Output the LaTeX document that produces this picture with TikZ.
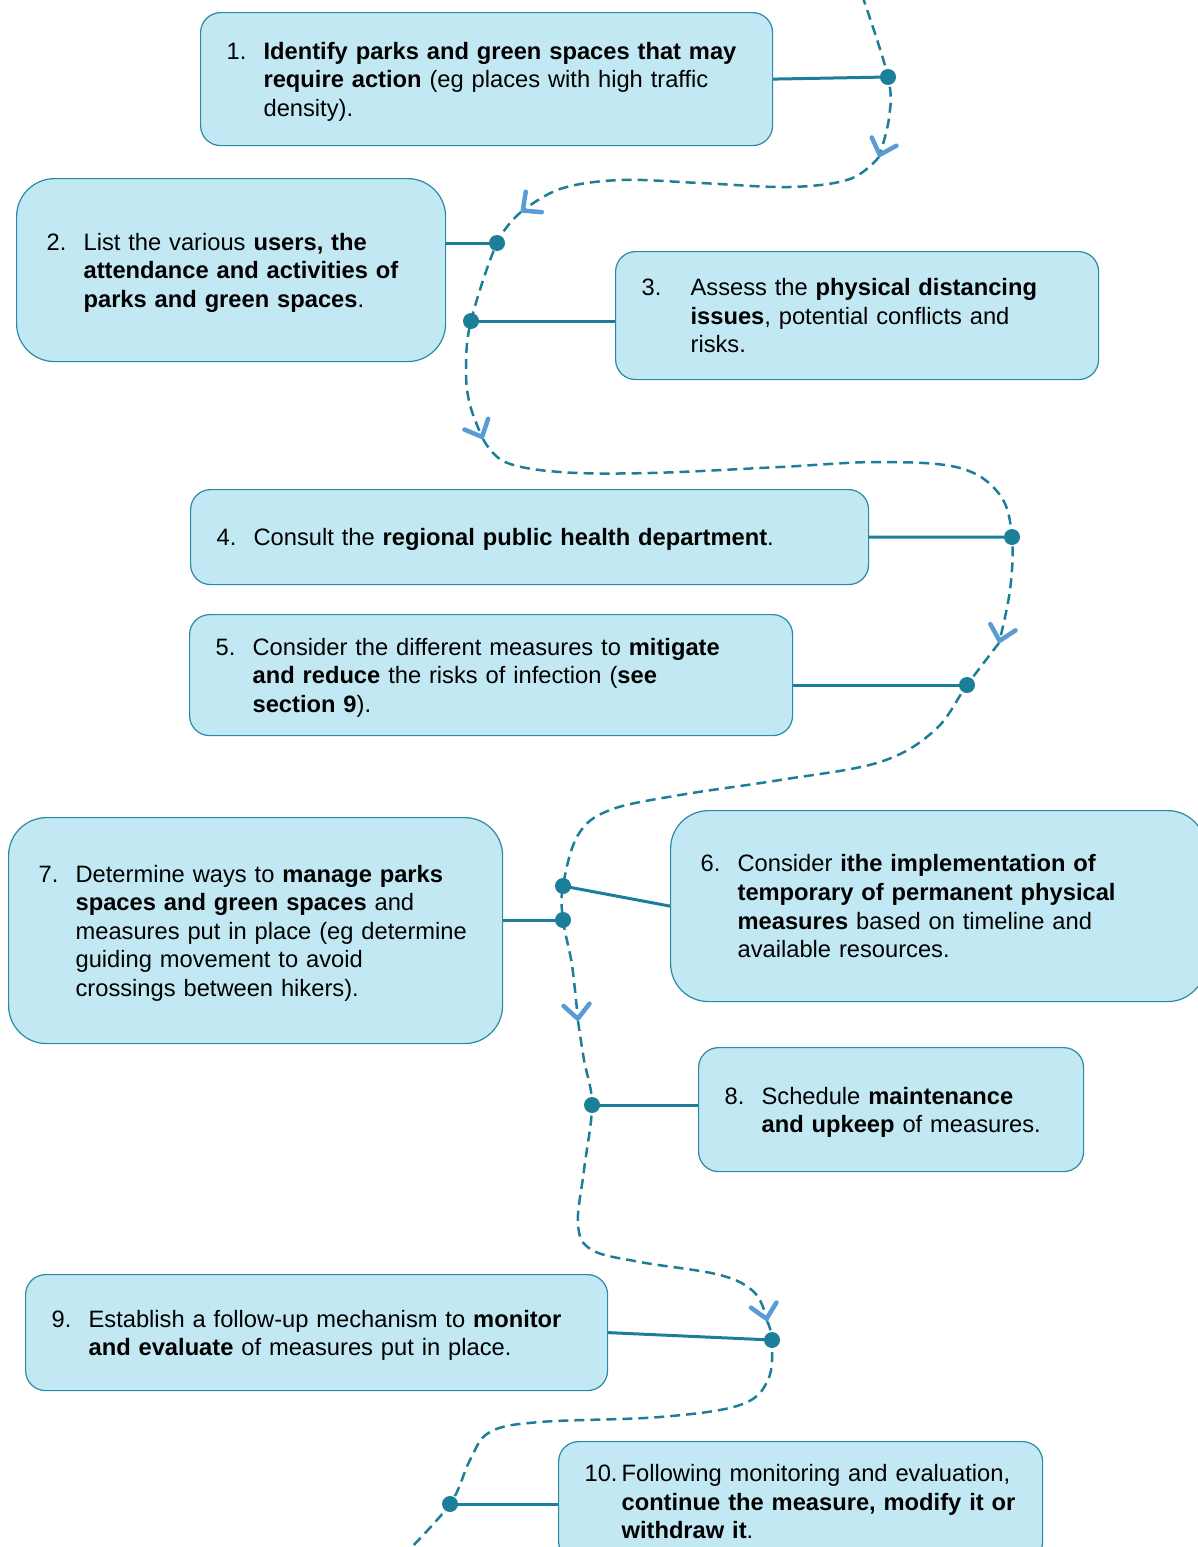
\documentclass[tikz,border=0pt]{standalone}
\usepackage{fontspec}
\setmainfont{Liberation Sans}
\usetikzlibrary{arrows.meta}

\definecolor{boxfill}{HTML}{C2E9F3}
\definecolor{boxline}{HTML}{2A8BA6}
\definecolor{pathteal}{HTML}{1B7F99}
\definecolor{tipblue}{HTML}{5B9BD5}

% number column + lines of one step
\newcommand{\stepitem}[3][37pt]{%
  \raisebox{-3pt}[\height][\depth]{%
  \begin{tabular}{@{}p{#1}@{}l@{}}#2 & \begin{tabular}[t]{@{}l@{}}#3\end{tabular}\end{tabular}}}

\tikzset{
  stepbox/.style={draw=boxline, line width=1.2pt, fill=boxfill, rounded corners=20pt,
    anchor=north west, inner xsep=26pt, inner ysep=4pt, align=left,
    font=\fontsize{23.7}{28.6}\selectfont},
  bigbox/.style={stepbox, rounded corners=38pt, inner xsep=30pt},
  pathdot/.style={circle, fill=pathteal, inner sep=0pt, minimum size=16pt},
  link/.style={draw=pathteal, line width=3pt},
  flowpath/.style={draw=pathteal, line width=2.5pt, dash pattern=on 10pt off 6pt},
  flowtip/.style={-{Straight Barb[length=14pt, width=26pt, line width=4.5pt, round, color=tipblue]}},
}

\begin{document}
\begin{tikzpicture}[x=1pt, y=-1pt]
  \useasboundingbox (0,0) rectangle (1198,1547);
  \clip (0,0) rectangle (1198,1547);

  % steps
  \node[stepbox, text width=520pt, minimum height=133pt] (b1) at (200,12)
    {\stepitem{1.}{\textbf{Identify parks and green spaces that may}\\
      \textbf{require action} (eg places with high traffic\\ density).}};
  \node[bigbox, text width=369pt, minimum height=183pt] (b2) at (16,178)
    {\stepitem{2.}{List the various \textbf{users, the}\\
      \textbf{attendance and activities of}\\ \textbf{parks and green spaces}.}};
  \node[stepbox, text width=431pt, minimum height=128pt] (b3) at (615,251)
    {\stepitem[49pt]{3.}{Assess the \textbf{physical distancing}\\
      \textbf{issues}, potential conflicts and\\ risks.}};
  \node[stepbox, text width=626pt, minimum height=95pt] (b4) at (190,489)
    {\stepitem{4.}{Consult the \textbf{regional public health department}.}};
  \node[stepbox, text width=551pt, minimum height=121pt] (b5) at (189,614)
    {\stepitem{5.}{Consider the different measures to \textbf{mitigate}\\
      \textbf{and reduce} the risks of infection (\textbf{see}\\ \textbf{section 9}).}};
  \node[bigbox, text width=475pt, minimum height=191pt] (b6) at (670,810)
    {\stepitem{6.}{Consider \textbf{ithe implementation of}\\
      \textbf{temporary of permanent physical}\\
      \textbf{measures} based on timeline and\\ available resources.}};
  \node[bigbox, text width=434pt, minimum height=226pt] (b7) at (8,817)
    {\stepitem{7.}{Determine ways to \textbf{manage parks}\\
      \textbf{spaces and green spaces} and\\
      measures put in place (eg determine\\
      guiding movement to avoid\\ crossings between hikers).}};
  \node[stepbox, text width=333pt, minimum height=124pt] (b8) at (698,1047)
    {\stepitem{8.}{Schedule \textbf{maintenance}\\ \textbf{and upkeep} of measures.}};
  \node[stepbox, text width=530pt, minimum height=116pt] (b9) at (25,1274)
    {\stepitem{9.}{Establish a follow-up mechanism to \textbf{monitor}\\
      \textbf{and evaluate} of measures put in place.}};
  \node[stepbox, text width=432pt, minimum height=120pt] (b10) at (558,1441)
    {\stepitem{10.}{Following monitoring and evaluation,\\
      \textbf{continue the measure, modify it or}\\ \textbf{withdraw it}.}};

  % dots on the path
  \node[pathdot] (d1) at (888,77) {};
  \node[pathdot] (d2) at (497,243) {};
  \node[pathdot] (d3) at (471,321) {};
  \node[pathdot] (d4) at (1012,537) {};
  \node[pathdot] (d5) at (967,685) {};
  \node[pathdot] (d6) at (563,886) {};
  \node[pathdot] (d7) at (563,920) {};
  \node[pathdot] (d8) at (592,1105) {};
  \node[pathdot] (d9) at (772,1340) {};
  \node[pathdot] (d10) at (450,1504) {};

  % links
  \draw[link] (b1.east) -- (d1.center);
  \draw[link] (b2.east |- d2.center) -- (d2.center);
  \draw[link] (d3.center) -- (b3.west |- d3.center);
  \draw[link] (b4.east) -- (d4.center);
  \draw[link] (b5.east |- d5.center) -- (d5.center);
  \draw[link] (d6.center) -- (b6.west);
  \draw[link] (b7.east |- d7.center) -- (d7.center);
  \draw[link] (d8.center) -- (b8.west |- d8.center);
  \draw[link] (b9.east) -- (d9.center);
  \draw[link] (d10.center) -- (b10.west |- d10.center);

  % dashed path
  \coordinate (t1) at (879,157);
  \coordinate (t2) at (521,212);
  \coordinate (t3) at (483,439);
  \coordinate (t4) at (999,643);
  \coordinate (t5) at (578,1021);
  \coordinate (t6) at (767,1321);
  \draw[flowpath, flowtip] plot[smooth, tension=0.6] coordinates
    {(862,-5) (d1.center) (889,118) (t1)};
  \draw[flowpath, flowtip] plot[smooth, tension=0.6] coordinates
    {(t1) (850,179) (790,187) (700,183) (620,180) (560,189) (t2)};
  \draw[flowpath, flowtip] plot[smooth, tension=0.6] coordinates
    {(t2) (d2.center) (d3.center) (466,370) (470,405) (t3)};
  \draw[flowpath, flowtip] plot[smooth, tension=0.6] coordinates
    {(t3) (505,462) (560,472) (650,473) (780,467) (880,462) (960,468)
     (1000,495) (d4.center) (1010,590) (t4)};
  \draw[flowpath, flowtip] plot[smooth, tension=0.6] coordinates
    {(t4) (d5.center) (935,730) (880,762) (780,780) (680,795) (610,810)
     (578,835) (d6.center) (d7.center) (572,965) (t5)};
  \draw[flowpath, flowtip] plot[smooth, tension=0.6] coordinates
    {(t5) (584,1060) (d8.center) (584,1170) (578,1225) (592,1250)
     (640,1262) (720,1275) (755,1293) (t6)};
  \draw[flowpath] plot[smooth, tension=0.6] coordinates
    {(t6) (d9.center) (768,1380) (740,1405) (660,1417) (540,1422)
     (490,1432) (470,1460) (d10.center) (404,1555)};
\end{tikzpicture}
\end{document}
